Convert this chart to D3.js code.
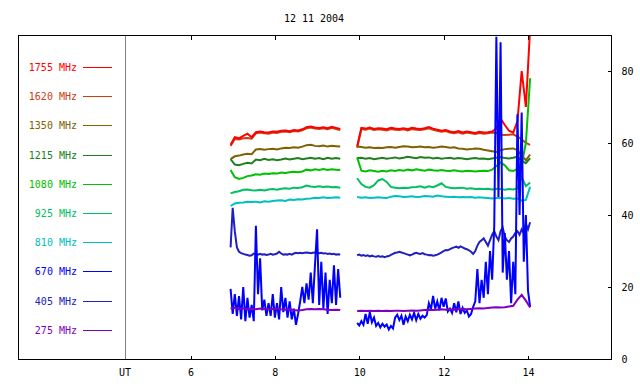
<!DOCTYPE html>
<html lang="en">
<head>
<meta charset="UTF-8">
<title>12 11 2004</title>
<script src="https://d3js.org/d3.v7.min.js"></script>
<style>
  body { margin: 0; background: #fff; }
  text { font-family: "DejaVu Sans Mono", monospace; font-size: 10px; }
</style>
</head>
<body>
<svg id="chart" width="640" height="384"></svg>
<script>
// sample times (UT hours): coarse grid for smooth channels, fine grid for noisy ones
const tA = [6.95,7.05,7.15,7.25,7.35,7.45,7.55,7.65,7.75,7.85,7.95,8.05,8.15,8.25,8.35,8.45,8.55,8.65,8.75,8.85,8.95,9.05,9.15,9.25,9.35,9.45,9.55];
const tB = [9.95,10.05,10.15,10.25,10.35,10.45,10.55,10.65,10.75,10.85,10.95,11.05,11.15,11.25,11.35,11.45,11.55,11.65,11.75,11.85,11.95,12.05,12.15,12.25,12.35,12.45,12.55,12.65,12.75,12.85,12.95,13.05,13.15,13.25,13.35,13.45,13.55,13.65,13.75,13.85,13.95,14.05];
const fA = [6.95,7.00,7.05,7.10,7.15,7.20,7.25,7.30,7.35,7.40,7.45,7.50,7.55,7.60,7.65,7.70,7.75,7.80,7.85,7.90,7.95,8.00,8.05,8.10,8.15,8.20,8.25,8.30,8.35,8.40,8.45,8.50,8.55,8.60,8.65,8.70,8.75,8.80,8.85,8.90,8.95,9.00,9.05,9.10,9.15,9.20,9.25,9.30,9.35,9.40,9.45,9.50,9.55];
const fB = [9.95,10.00,10.05,10.10,10.15,10.20,10.25,10.30,10.35,10.40,10.45,10.50,10.55,10.60,10.65,10.70,10.75,10.80,10.85,10.90,10.95,11.00,11.05,11.10,11.15,11.20,11.25,11.30,11.35,11.40,11.45,11.50,11.55,11.60,11.65,11.70,11.75,11.80,11.85,11.90,11.95,12.00,12.05,12.10,12.15,12.20,12.25,12.30,12.35,12.40,12.45,12.50,12.55,12.60,12.65,12.70,12.75,12.80,12.85,12.90,12.95,13.00,13.05,13.10,13.15,13.20,13.25,13.30,13.35,13.40,13.45,13.50,13.55,13.60,13.65,13.70,13.75,13.80,13.85,13.90,13.95,14.00,14.05];

// flux values per channel, two recording segments each
const f1755a = [59.5,61.6,61.3,62.0,62.6,61.6,63.0,63.2,63.0,62.9,63.2,63.1,63.4,63.5,63.3,63.6,63.5,63.8,64.4,64.6,64.3,64.2,64.4,64.1,64.5,64.2,63.9];
const f1755b = [59.0,64.2,64.0,64.3,63.9,64.1,64.0,63.8,64.2,64.0,63.9,64.1,63.8,64.2,64.0,63.9,64.1,64.4,64.0,63.7,63.4,63.6,63.2,63.0,63.3,62.9,63.2,63.0,62.8,63.1,62.9,63.0,63.2,64.0,66.8,65.0,63.4,62.9,66.0,80.0,70.0,92.0];
const f1620a = [59.2,61.1,61.0,61.3,61.4,61.2,62.7,62.9,62.7,62.6,62.9,62.8,63.1,63.2,63.0,63.3,63.2,63.5,64.1,64.3,64.0,63.9,64.1,63.8,64.2,63.9,63.6];
const f1620b = [58.7,63.9,63.7,64.0,63.6,63.8,63.7,63.5,63.9,63.7,63.6,63.8,63.5,63.9,63.7,63.6,63.8,64.1,63.7,63.4,63.1,63.3,62.9,62.7,63.0,62.6,62.9,62.7,62.5,62.8,62.6,62.7,62.9,62.8,62.3,62.2,62.3,62.4,61.8,61.0,60.0,59.5];
const f1350a = [55.5,56.3,56.5,56.8,57.0,56.9,58.2,58.3,58.1,58.3,58.4,58.2,58.5,58.7,58.6,58.8,58.7,59.0,59.4,59.5,59.2,59.1,59.3,59.0,59.2,59.1,59.0];
const f1350b = [59.0,58.9,58.7,58.8,58.6,58.7,58.6,58.8,58.9,58.7,58.9,59.1,59.0,58.8,58.9,59.0,58.8,58.9,58.7,58.8,59.0,58.9,58.7,58.8,58.5,58.4,58.2,58.3,58.5,58.4,58.1,57.9,57.7,57.5,58.0,58.3,58.4,58.5,58.0,56.5,55.2,56.8];
const f1215a = [55.5,54.0,53.8,54.2,54.5,54.3,55.4,55.2,55.6,55.3,55.5,55.2,55.4,55.7,55.4,55.6,55.8,55.5,55.7,55.9,55.6,55.8,55.5,55.9,55.6,55.8,55.6];
const f1215b = [55.8,55.9,55.6,55.8,55.5,55.7,55.9,55.6,55.8,56.0,55.7,55.9,56.2,56.0,55.8,56.1,55.9,56.0,55.7,55.9,55.6,55.8,55.9,55.6,55.8,55.7,55.5,55.7,55.8,55.6,55.7,55.5,55.7,55.9,56.1,55.8,55.7,55.9,56.2,55.0,54.4,55.8];
const f1080a = [52.5,50.5,50.0,50.3,50.8,51.0,51.3,51.2,51.5,51.4,51.6,51.5,51.8,51.7,51.9,52.0,51.9,52.1,52.6,52.4,52.7,52.5,52.8,52.5,52.7,52.6,52.5];
const f1080b = [56.0,52.3,52.1,52.4,52.2,52.0,52.3,52.1,52.4,52.2,52.5,52.3,52.6,52.4,52.7,52.5,52.3,52.6,52.4,52.3,52.5,52.3,52.2,52.4,52.2,52.1,52.3,52.2,52.1,52.2,52.3,52.2,52.6,53.6,54.6,53.8,52.4,52.2,52.8,54.0,60.0,78.0];
const f925a = [46.0,46.4,46.6,47.0,47.1,46.9,46.8,47.0,46.8,47.1,47.2,47.0,47.3,47.4,47.3,47.6,47.5,47.7,48.2,47.9,47.8,48.0,47.8,47.9,47.7,47.8,47.6];
const f925b = [50.2,48.6,47.8,47.6,48.3,49.6,50.0,49.2,47.8,47.6,47.4,47.6,47.5,47.7,47.8,48.0,47.6,48.0,47.7,48.2,48.8,47.8,47.6,47.4,47.5,47.6,47.3,47.4,47.2,47.3,47.2,47.3,47.1,47.3,47.2,47.0,47.2,47.1,47.4,50.5,48.0,49.0];
const f810a = [42.5,43.2,43.4,43.5,43.7,43.6,43.7,43.5,43.8,43.7,43.9,44.0,44.1,43.9,44.3,44.2,44.4,44.3,44.5,44.6,44.8,44.7,44.9,44.7,44.8,44.9,44.8];
const f810b = [45.0,44.8,44.9,44.7,44.8,44.9,44.8,44.7,45.1,45.3,45.2,45.0,45.1,45.2,45.0,45.1,45.3,45.2,45.1,45.4,45.2,45.1,45.0,45.1,44.9,45.0,44.9,45.0,44.8,44.9,44.8,44.7,44.6,44.7,44.8,44.6,44.7,44.5,44.6,44.0,44.2,47.8];
const f670a = [19.5,12.5,18.0,12.0,17.5,11.0,20.0,10.5,17.0,11.5,15.0,10.5,37.0,18.0,28.0,13.5,16.5,12.0,15.5,12.0,18.0,11.5,15.5,11.0,20.0,13.0,17.0,11.5,16.0,11.0,14.0,9.5,12.5,16.0,20.0,15.5,21.0,16.5,24.0,15.5,26.0,36.0,15.0,27.0,14.0,24.0,12.5,22.0,15.5,26.0,15.0,25.0,17.0];
const f670b = [10.0,9.3,10.5,9.5,12.5,9.8,13.0,10.2,11.5,9.2,10.0,8.8,9.8,9.0,9.6,8.2,9.2,8.5,11.5,12.3,10.8,12.0,9.5,11.8,10.5,12.3,11.0,12.8,10.8,12.5,11.2,12.0,11.5,12.2,15.5,13.8,17.5,14.0,16.0,13.5,17.0,14.5,16.8,13.2,14.0,12.8,15.5,13.0,16.0,12.5,14.2,12.8,13.5,11.8,12.5,14.5,16.0,25.0,15.5,22.0,17.0,27.0,18.0,30.0,22.0,37.0,89.5,45.0,88.0,24.0,35.0,22.0,30.0,15.5,27.0,18.0,68.0,40.0,68.5,27.0,40.0,19.0,14.5];
const f405a = [31.0,42.0,35.5,31.0,29.8,29.4,29.2,29.0,28.9,28.7,28.8,29.3,29.1,29.0,29.2,29.0,29.1,28.9,29.0,29.2,29.0,29.1,29.3,29.8,29.3,29.0,29.1,29.0,29.2,29.0,29.3,29.5,29.4,29.5,29.4,29.5,29.6,29.5,29.4,29.5,29.6,29.5,29.4,29.5,29.3,29.4,29.2,29.3,29.1,29.2,29.0,29.1,29.0];
const f405b = [28.8,29.0,28.7,28.9,28.6,28.8,28.5,28.7,28.5,28.4,28.6,28.4,28.5,28.3,28.5,28.6,28.9,29.2,29.5,29.6,29.8,29.6,29.4,29.2,29.0,28.8,29.0,29.3,29.5,29.3,29.2,29.4,29.1,29.0,28.8,28.9,28.7,28.8,29.0,29.3,29.6,30.0,30.3,30.2,30.5,30.8,31.0,31.2,30.9,31.3,31.0,30.7,30.5,30.2,29.8,29.2,30.0,31.5,32.5,33.0,33.5,32.5,31.5,33.0,34.5,35.5,34.0,33.0,35.5,36.5,34.0,33.0,32.5,33.5,34.0,35.0,35.5,34.5,36.0,35.0,37.5,36.0,38.0];
const f275a = [14.0,14.2,13.9,14.1,13.8,13.9,13.8,14.0,13.9,13.8,13.9,14.0,13.8,13.7,13.8,13.6,13.5,13.6,13.8,13.9,13.8,13.9,13.8,13.7,13.6,13.7,13.6];
const f275b = [13.3,13.4,13.3,13.4,13.3,13.4,13.3,13.4,13.3,13.4,13.4,13.3,13.4,13.5,13.4,13.5,13.6,13.7,13.6,13.7,13.8,13.7,13.8,13.7,13.8,13.9,13.8,13.9,14.0,14.1,14.0,14.2,14.3,14.4,14.3,14.4,14.6,14.8,16.5,17.8,16.2,14.3];

const xTicks = [6, 8, 10, 12, 14];
const yTicks = [0, 20, 40, 60, 80];

// legend order (top to bottom)
const channels = [
  {label: "1755 MHz", color: "#ff0000", segs: [[tA, f1755a], [tB, f1755b]]},
  {label: "1620 MHz", color: "#c84010", segs: [[tA, f1620a], [tB, f1620b]]},
  {label: "1350 MHz", color: "#806000", segs: [[tA, f1350a], [tB, f1350b]]},
  {label: "1215 MHz", color: "#208020", segs: [[tA, f1215a], [tB, f1215b]]},
  {label: "1080 MHz", color: "#00c000", segs: [[tA, f1080a], [tB, f1080b]]},
  {label: "925 MHz",  color: "#00c060", segs: [[tA, f925a], [tB, f925b]]},
  {label: "810 MHz",  color: "#00c0c0", segs: [[tA, f810a], [tB, f810b]]},
  {label: "670 MHz",  color: "#0000ff", segs: [[fA, f670a], [fB, f670b]]},
  {label: "405 MHz",  color: "#2020c0", segs: [[fA, f405a], [fB, f405b]]},
  {label: "275 MHz",  color: "#8000c0", segs: [[tA, f275a], [tB, f275b]]}
];
// drawing order (last on top)
const drawOrder = ["1620 MHz", "1755 MHz", "1350 MHz", "1215 MHz", "1080 MHz", "925 MHz", "810 MHz", "405 MHz", "670 MHz", "275 MHz"];

const svg = d3.select("#chart");
const plotL = 18, plotR = 611, plotT = 35, plotB = 359;

const x = d3.scaleLinear().domain([6, 14]).range([190.5, 528]);
const y = d3.scaleLinear().domain([0, 90]).range([plotB, plotT]);

svg.append("text")
    .attr("x", 314).attr("y", 22)
    .attr("text-anchor", "middle")
    .text("12 11 2004");

svg.append("defs").append("clipPath").attr("id", "plot")
  .append("rect").attr("x", plotL).attr("y", plotT)
    .attr("width", plotR - plotL).attr("height", plotB - plotT);

// UT separator line
svg.append("line")
    .attr("x1", 125.5).attr("x2", 125.5).attr("y1", plotT).attr("y2", plotB)
    .attr("stroke", "#808080").attr("shape-rendering", "crispEdges");

// data
const line = d3.line().x(d => x(d[0])).y(d => y(d[1]));
const dataG = svg.append("g").attr("clip-path", "url(#plot)");
drawOrder.forEach(name => {
  const ch = channels.find(c => c.label === name);
  ch.segs.forEach(([t, v]) => {
    dataG.append("path")
        .datum(d3.zip(t, v))
        .attr("fill", "none")
        .attr("stroke", ch.color)
        .attr("stroke-width", 2)
        .attr("stroke-linejoin", "miter")
        .attr("d", line);
  });
});

// frame
svg.append("rect")
    .attr("x", plotL + 0.5).attr("y", plotT + 0.5)
    .attr("width", plotR - plotL).attr("height", plotB - plotT)
    .attr("fill", "none").attr("stroke", "#000")
    .attr("shape-rendering", "crispEdges");

// axes
svg.append("g")
    .attr("transform", `translate(0,${plotB + 0.5})`)
    .call(d3.axisBottom(x).tickValues(xTicks).tickSize(-4).tickSizeOuter(0).tickPadding(9).tickFormat(d3.format("d")))
    .call(g => g.select(".domain").remove());

svg.append("g")
    .attr("transform", `translate(0,${plotT + 0.5})`)
    .call(d3.axisTop(x).tickValues(xTicks).tickSize(-4).tickSizeOuter(0).tickFormat(""))
    .call(g => g.select(".domain").remove());

svg.append("g")
    .attr("transform", `translate(${plotR + 0.5},0)`)
    .call(d3.axisRight(y).tickValues(yTicks).tickSize(-4).tickSizeOuter(0).tickPadding(10))
    .call(g => g.select(".domain").remove());

svg.selectAll(".tick line").attr("shape-rendering", "crispEdges");
svg.selectAll(".tick text").attr("fill", "#000")
    .style("font-family", "DejaVu Sans Mono").style("font-size", "10px");

svg.append("text")
    .attr("x", 125).attr("y", 372).attr("dy", "0.35em")
    .attr("text-anchor", "middle")
    .text("UT");

// legend
const legend = svg.append("g").selectAll("g")
  .data(channels)
  .join("g")
    .attr("transform", (d, i) => `translate(0,${Math.round(67 + 29.2 * i)})`);

legend.append("text")
    .attr("x", 77).attr("dy", "0.35em")
    .attr("text-anchor", "end")
    .attr("fill", d => d.color)
    .text(d => d.label);

legend.append("line")
    .attr("x1", 83).attr("x2", 112).attr("y1", 0.5).attr("y2", 0.5)
    .attr("stroke", d => d.color)
    .attr("shape-rendering", "crispEdges");
</script>
</body>
</html>
